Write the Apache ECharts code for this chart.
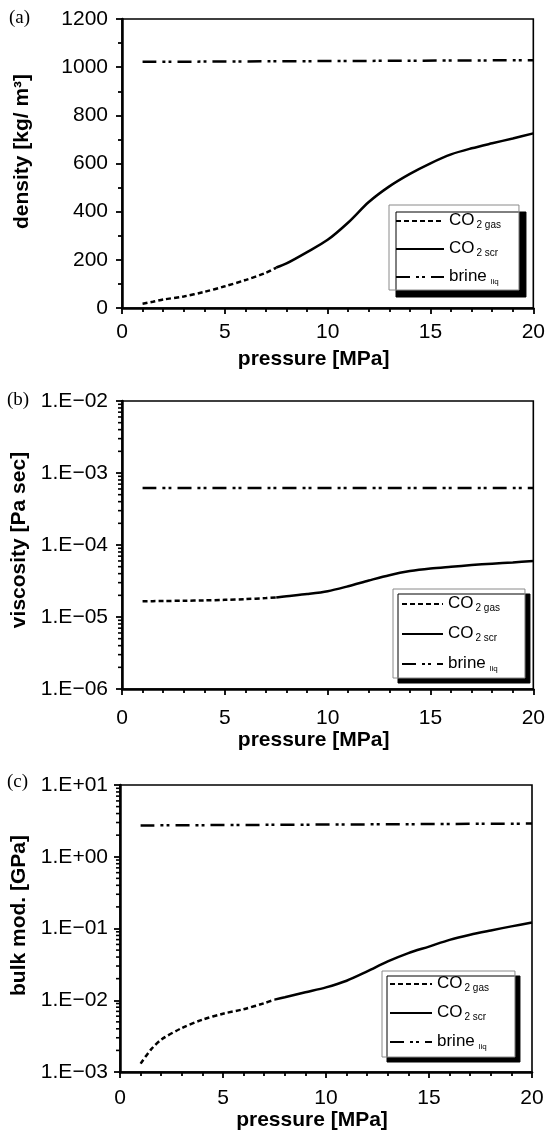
<!DOCTYPE html>
<html>
<head>
<meta charset="utf-8">
<script src="https://cdn.jsdelivr.net/npm/echarts@6/dist/echarts.min.js"></script>
<style>
  html, body { margin: 0; padding: 0; background: #fff; }
  #chart { width: 548px; height: 1138px; }
</style>
</head>
<body>
<div id="chart"></div>
<script>
// Pressure sampling [MPa]
const pressureGas = [1, 1.5, 2, 3, 4, 5, 6, 7, 7.5];
const pressureScr = [7.5, 8, 9, 10, 11, 12, 13, 14, 15, 16, 17, 18, 19, 20];
const pressureBrine = [1, 20];

// (a) density [kg/m3]
const densityGas = [18, 26, 35, 48, 67, 90, 116, 146, 168];
const densityScr = [168, 185, 232, 283, 355, 440, 505, 557, 601, 638, 663, 684, 704, 725];
const densityBrine = [1022, 1029];

// (b) viscosity [Pa s]
const viscosityGas = [1.65e-5, 1.66e-5, 1.67e-5, 1.68e-5, 1.70e-5, 1.73e-5, 1.77e-5, 1.83e-5, 1.87e-5];
const viscosityScr = [1.87e-5, 1.94e-5, 2.08e-5, 2.28e-5, 2.68e-5, 3.21e-5, 3.81e-5, 4.34e-5, 4.72e-5, 4.99e-5, 5.26e-5, 5.5e-5, 5.73e-5, 5.98e-5];
const viscosityBrine = [6.2e-4, 6.2e-4];

// (c) bulk modulus [GPa]
const bulkGas = [1.31e-3, 2.05e-3, 2.82e-3, 4.1e-3, 5.36e-3, 6.49e-3, 7.5e-3, 9.1e-3, 1.02e-2];
const bulkScr = [1.02e-2, 1.1e-2, 1.29e-2, 1.51e-2, 1.87e-2, 2.52e-2, 3.47e-2, 4.54e-2, 5.6e-2, 6.95e-2, 8.2e-2, 9.4e-2, 1.07e-1, 1.21e-1];
const bulkBrine = [2.73, 2.9];

// Axis ranges and labels
const pressureTicks = [0, 5, 10, 15, 20];
const panelLabels = ['(a)', '(b)', '(c)'];
const yTitles = ['density [kg/ m³]', 'viscosity [Pa sec]', 'bulk mod. [GPa]'];
const xTitle = 'pressure [MPa]';
const viscosityRange = [1e-6, 1e-2];
const bulkRange = [1e-3, 1e1];
const logMinorMultipliers = [2, 3, 4, 5, 6, 7, 8, 9];

const NAME_GAS = 'CO2 gas', NAME_SCR = 'CO2 scr', NAME_BRINE = 'brine';

const sans = 'Liberation Sans, Arial, Helvetica, sans-serif';
const black = '#000';

function pairs(xs, ys) { return xs.map((x, i) => [x, ys[i]]); }

function sciLabel(v) {
  const e = Math.round(Math.log10(v));
  const sign = e < 0 ? '\u2212' : '+';
  const a = Math.abs(e);
  return '1.E' + sign + (a < 10 ? '0' + a : '' + a);
}

function minorTickValues(range) {
  const out = [];
  const e0 = Math.round(Math.log10(range[0])), e1 = Math.round(Math.log10(range[1]));
  for (let e = e0; e < e1; e++) {
    logMinorMultipliers.forEach(m => out.push([0, m * Math.pow(10, e)]));
  }
  return out;
}

const gasLine = { color: black, width: 2.5, type: [5, 3] };
const scrLine = { color: black, width: 2.5, type: 'solid' };
const brineLine = { color: black, width: 2.5, type: [14, 6, 3, 3, 3, 6] };

function lineSeries(name, idx, data, style) {
  return {
    type: 'line', name: name, xAxisIndex: idx, yAxisIndex: idx,
    data: data, symbol: 'none', smooth: 0.3, lineStyle: style,
    itemStyle: { color: black }, silent: true, z: 3
  };
}

function minorTickSeries(idx, range) {
  return {
    type: 'custom', xAxisIndex: idx, yAxisIndex: idx, silent: true, clip: false,
    data: minorTickValues(range), encode: { x: 0, y: 1 },
    renderItem: function (params, api) {
      const p = api.coord([0, api.value(1)]);
      return {
        type: 'line',
        shape: { x1: p[0] - 4, y1: p[1], x2: p[0], y2: p[1] },
        style: { stroke: black, lineWidth: 1.6 }
      };
    }
  };
}

const grids = [
  { left: 122, top: 19, width: 412, height: 289 },
  { left: 122, top: 401, width: 412, height: 288 },
  { left: 120, top: 785, width: 412, height: 287 }
];

function xAxisFor(idx, labelMargin, nameGap) {
  return {
    type: 'value', gridIndex: idx, min: 0, max: 20, interval: 5,
    axisLine: { onZero: false, lineStyle: { color: black, width: 2.5 } },
    axisTick: { inside: false, length: 6, lineStyle: { color: black, width: 1.8 } },
    minorTick: { show: true, splitNumber: 5, length: 4, lineStyle: { color: black, width: 1.8 } },
    splitLine: { show: false }, minorSplitLine: { show: false },
    axisLabel: { margin: labelMargin, fontFamily: sans, fontSize: 21, color: black,
      formatter: v => pressureTicks.includes(v) ? String(v) : '' },
    name: xTitle, nameLocation: 'middle', nameGap: nameGap,
    nameTextStyle: { fontFamily: sans, fontWeight: 'bold', fontSize: 21, color: black, padding: [0, 28, 0, 0] }
  };
}

function yAxisCommon(idx, name, nameGap, shiftUp, labelMargin) {
  return {
    gridIndex: idx,
    axisLine: { onZero: false, lineStyle: { color: black, width: 2.5 } },
    axisTick: { inside: false, length: 6, lineStyle: { color: black, width: 1.8 } },
    splitLine: { show: false }, minorSplitLine: { show: false },
    axisLabel: { margin: labelMargin, fontFamily: sans, fontSize: 21, color: black },
    name: name, nameLocation: 'middle', nameGap: nameGap,
    nameTextStyle: { fontFamily: sans, fontWeight: 'bold', fontSize: 21, color: black, padding: [0, 0, 0, shiftUp * 2] }
  };
}

const yA = Object.assign(yAxisCommon(0, yTitles[0], 89, 12, 14), {
  type: 'value', min: 0, max: 1200, interval: 200,
  minorTick: { show: true, splitNumber: 2, length: 4, lineStyle: { color: black, width: 1.8 } }
});
yA.axisLabel.formatter = v => String(v);
const yB = Object.assign(yAxisCommon(1, yTitles[1], 89, 5, 14), {
  type: 'log', logBase: 10, min: viscosityRange[0], max: viscosityRange[1], splitNumber: 4
});
yB.axisLabel.formatter = sciLabel;
const yC = Object.assign(yAxisCommon(2, yTitles[2], 87, 13, 12), {
  type: 'log', logBase: 10, min: bulkRange[0], max: bulkRange[1], splitNumber: 4
});
yC.axisLabel.formatter = sciLabel;

const legendRich = {
  m: { fontFamily: sans, fontSize: 17, lineHeight: 18, color: black, verticalAlign: 'top' },
  s: { fontFamily: sans, fontSize: 10, lineHeight: 8, color: black, verticalAlign: 'bottom', padding: [0, 0, 0, 2] },
  t: { fontFamily: sans, fontSize: 8, lineHeight: 6, color: black, verticalAlign: 'bottom', padding: [0, 0, 0, 4] }
};
const legendText = {};
legendText[NAME_GAS] = '{m|CO}{s|2 gas}';
legendText[NAME_SCR] = '{m|CO}{s|2 scr}';
legendText[NAME_BRINE] = '{m|brine}{t|liq}';

function legendFor(left, top, iconWidth, gap, padding, shadow) {
  return {
    orient: 'vertical', left: left, top: top, selectedMode: false,
    data: [NAME_GAS, NAME_SCR, NAME_BRINE],
    itemWidth: iconWidth, itemHeight: 14, itemGap: gap, padding: padding,
    itemStyle: { opacity: 0, borderWidth: 0 },
    backgroundColor: '#fff', borderColor: '#8a8a8a', borderWidth: 1,
    shadowColor: black, shadowBlur: 0, shadowOffsetX: shadow, shadowOffsetY: shadow,
    formatter: name => legendText[name],
    textStyle: { rich: legendRich, color: black }
  };
}

const option = {
  animation: false,
  backgroundColor: '#fff',
  title: [
    { text: panelLabels[0], left: 9, top: 9 },
    { text: panelLabels[1], left: 7, top: 391 },
    { text: panelLabels[2], left: 7, top: 773 }
  ].map(t => Object.assign(t, { padding: 0,
    textStyle: { fontFamily: 'Liberation Serif, Times New Roman, serif', fontWeight: 'normal', fontSize: 19, color: black } })),
  grid: grids.map(g => Object.assign({ show: true, borderColor: black, borderWidth: 1.6, backgroundColor: 'transparent' }, g)),
  xAxis: [xAxisFor(0, 14, 41), xAxisFor(1, 19, 38), xAxisFor(2, 16, 37)],
  yAxis: [yA, yB, yC],
  legend: [
    legendFor(389, 205, 48, 10, [7, 18, 4, 6], 7),
    legendFor(393, 589, 41, 12, [6, 25, 5, 8], 5),
    legendFor(382, 971, 42, 11, [4, 26, 6, 7], 5)
  ],
  series: [
    lineSeries(NAME_GAS, 0, pairs(pressureGas, densityGas), gasLine),
    lineSeries(NAME_SCR, 0, pairs(pressureScr, densityScr), scrLine),
    lineSeries(NAME_BRINE, 0, pairs(pressureBrine, densityBrine), brineLine),
    lineSeries(NAME_GAS, 1, pairs(pressureGas, viscosityGas), gasLine),
    lineSeries(NAME_SCR, 1, pairs(pressureScr, viscosityScr), scrLine),
    lineSeries(NAME_BRINE, 1, pairs(pressureBrine, viscosityBrine), brineLine),
    lineSeries(NAME_GAS, 2, pairs(pressureGas, bulkGas), gasLine),
    lineSeries(NAME_SCR, 2, pairs(pressureScr, bulkScr), scrLine),
    lineSeries(NAME_BRINE, 2, pairs(pressureBrine, bulkBrine), brineLine),
    minorTickSeries(1, viscosityRange),
    minorTickSeries(2, bulkRange)
  ]
};

const chart = echarts.init(document.getElementById('chart'), null, { renderer: 'canvas', width: 548, height: 1138 });
chart.setOption(option);
</script>
</body>
</html>
